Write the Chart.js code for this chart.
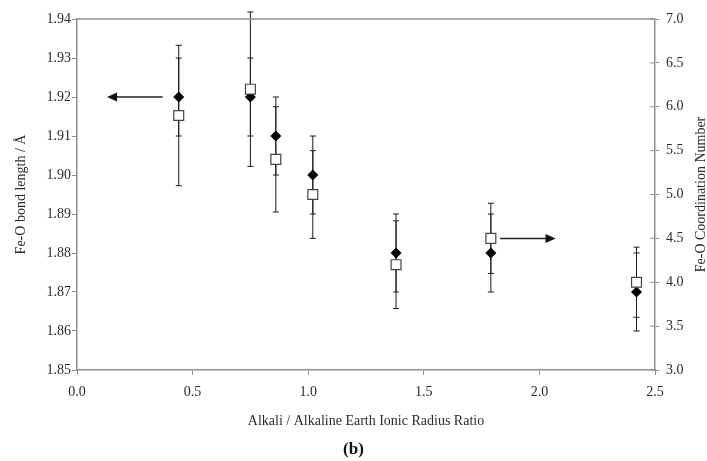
<!DOCTYPE html>
<html>
<head>
<meta charset="utf-8">
<script src="https://cdn.jsdelivr.net/npm/chart.js@4.4.1/dist/chart.umd.min.js"></script>
<style>
  html, body { margin: 0; padding: 0; background: #fff; }
  #wrap { width: 707px; height: 461px; }
</style>
</head>
<body>
<div id="wrap"><canvas id="chart" width="707" height="461"></canvas></div>
<script>
// x: alkali / alkaline earth ionic radius ratio
const radiusRatio = [0.44, 0.75, 0.86, 1.02, 1.38, 1.79, 2.42];
// left axis: Fe-O bond length (Å) and its error
const bondLength = [1.92, 1.92, 1.91, 1.90, 1.88, 1.88, 1.87];
const bondErr = [0.01, 0.01, 0.01, 0.01, 0.01, 0.01, 0.01];
// right axis: Fe-O coordination number and its error
const coordNumber = [5.9, 6.2, 5.4, 5.0, 4.2, 4.5, 4.0];
const coordErr = [0.8, 0.88, 0.6, 0.5, 0.5, 0.4, 0.4];
// arrows pointing to each series' axis: [xFrom, xTo, y]
const leftArrow = [0.37, 0.13, 1.92];
const rightArrow = [1.83, 2.07, 4.5];

const FONT = '"Liberation Serif", "Times New Roman", serif';
const TEXT = '#2b2b2b';
const AXIS = '#8f8f8f';

Chart.defaults.font.family = FONT;
Chart.defaults.color = TEXT;

const extras = {
  id: 'extras',
  beforeDatasetsDraw(chart) {
    const { ctx, scales: { x, y, y2 } } = chart;
    ctx.save();
    ctx.strokeStyle = '#1a1a1a';
    ctx.lineWidth = 1;
    const bar = (px, lo, hi, cap) => {
      ctx.beginPath();
      ctx.moveTo(px, lo); ctx.lineTo(px, hi);
      ctx.moveTo(px - cap, lo); ctx.lineTo(px + cap, lo);
      ctx.moveTo(px - cap, hi); ctx.lineTo(px + cap, hi);
      ctx.stroke();
    };
    radiusRatio.forEach((r, i) => {
      const px = x.getPixelForValue(r);
      bar(px, y2.getPixelForValue(coordNumber[i] - coordErr[i]), y2.getPixelForValue(coordNumber[i] + coordErr[i]), 3);
      bar(px, y.getPixelForValue(bondLength[i] - bondErr[i]), y.getPixelForValue(bondLength[i] + bondErr[i]), 3);
    });
    ctx.restore();
  },
  afterDraw(chart) {
    const { ctx, chartArea: a, scales: { x, y, y2 } } = chart;
    ctx.save();
    // top frame line
    ctx.strokeStyle = AXIS;
    ctx.lineWidth = 1.5;
    ctx.beginPath();
    ctx.moveTo(a.left, a.top); ctx.lineTo(a.right, a.top);
    ctx.stroke();
    // right axis ticks cross the axis line
    ctx.lineWidth = 1;
    y2.ticks.forEach(t => {
      const py = y2.getPixelForValue(t.value);
      ctx.beginPath();
      ctx.moveTo(a.right - 5, py); ctx.lineTo(a.right, py);
      ctx.stroke();
    });

    // arrows
    const arrow = (x1, x2, py) => {
      const p1 = x.getPixelForValue(x1), p2 = x.getPixelForValue(x2);
      const dir = Math.sign(p2 - p1);
      ctx.strokeStyle = '#222';
      ctx.fillStyle = '#111';
      ctx.lineWidth = 1.5;
      ctx.beginPath();
      ctx.moveTo(p1, py); ctx.lineTo(p2 - dir * 9, py);
      ctx.stroke();
      ctx.beginPath();
      ctx.moveTo(p2, py);
      ctx.lineTo(p2 - dir * 10, py - 4.5);
      ctx.lineTo(p2 - dir * 10, py + 4.5);
      ctx.closePath();
      ctx.fill();
    };
    arrow(leftArrow[0], leftArrow[1], y.getPixelForValue(leftArrow[2]));
    arrow(rightArrow[0], rightArrow[1], y2.getPixelForValue(rightArrow[2]));

    // right axis title, reading bottom to top
    ctx.fillStyle = TEXT;
    ctx.font = '14px ' + FONT;
    ctx.textAlign = 'center';
    ctx.textBaseline = 'middle';
    ctx.translate(701, (a.top + a.bottom) / 2);
    ctx.rotate(-Math.PI / 2);
    ctx.fillText('Fe-O Coordination Number', 0, 0);
    ctx.restore();
  }
};

new Chart(document.getElementById('chart'), {
  type: 'scatter',
  data: {
    datasets: [
      {
        label: 'Fe-O bond length',
        data: radiusRatio.map((r, i) => ({ x: r, y: bondLength[i] })),
        yAxisID: 'y',
        pointStyle: 'rectRot',
        pointRadius: 5.5,
        backgroundColor: '#000',
        borderColor: '#000',
        borderWidth: 0,
        order: 2
      },
      {
        label: 'Fe-O coordination number',
        data: radiusRatio.map((r, i) => ({ x: r, y: coordNumber[i] })),
        yAxisID: 'y2',
        pointStyle: 'rect',
        pointRadius: 7,
        backgroundColor: '#fff',
        borderColor: '#444',
        borderWidth: 1.2,
        order: 1
      }
    ]
  },
  options: {
    responsive: false,
    animation: false,
    layout: { padding: { top: 19, left: 0, right: 0, bottom: 0 } },
    plugins: {
      legend: { display: false },
      tooltip: { enabled: false },
      title: {
        display: true,
        position: 'bottom',
        text: '(b)',
        color: '#111',
        font: { family: FONT, size: 17, weight: 'bold' },
        padding: { top: 0, bottom: 1 }
      }
    },
    scales: {
      x: {
        type: 'linear',
        min: 0, max: 2.5,
        afterFit: s => { s.height = 69.6; },
        border: { color: AXIS, width: 1.5 },
        grid: { drawOnChartArea: false, drawTicks: true, tickLength: 5, color: AXIS },
        ticks: { stepSize: 0.5, padding: 9, font: { size: 14 }, color: TEXT, callback: v => v.toFixed(1) },
        title: {
          display: true,
          text: 'Alkali / Alkaline Earth Ionic Radius Ratio',
          font: { size: 14 },
          color: TEXT,
          padding: { top: 4, bottom: 10 }
        }
      },
      y: {
        position: 'left',
        min: 1.85, max: 1.94,
        afterFit: s => { s.width = 77; },
        border: { color: AXIS, width: 1.5 },
        grid: { drawOnChartArea: false, drawTicks: true, tickLength: 5, color: AXIS },
        ticks: { stepSize: 0.01, padding: 1, font: { size: 14 }, color: TEXT, callback: v => v.toFixed(2) },
        title: {
          display: true,
          text: 'Fe-O bond length / Å',
          font: { size: 14 },
          color: TEXT,
          padding: { top: 13, bottom: 0 }
        }
      },
      y2: {
        position: 'right',
        min: 3, max: 7,
        afterFit: s => { s.width = 52; },
        border: { color: AXIS, width: 1.5 },
        grid: { drawOnChartArea: false, drawTicks: true, tickLength: 4, color: AXIS },
        ticks: { stepSize: 0.5, padding: 7, font: { size: 14 }, color: TEXT, callback: v => v.toFixed(1) }
      }
    }
  },
  plugins: [extras]
});
</script>
</body>
</html>
